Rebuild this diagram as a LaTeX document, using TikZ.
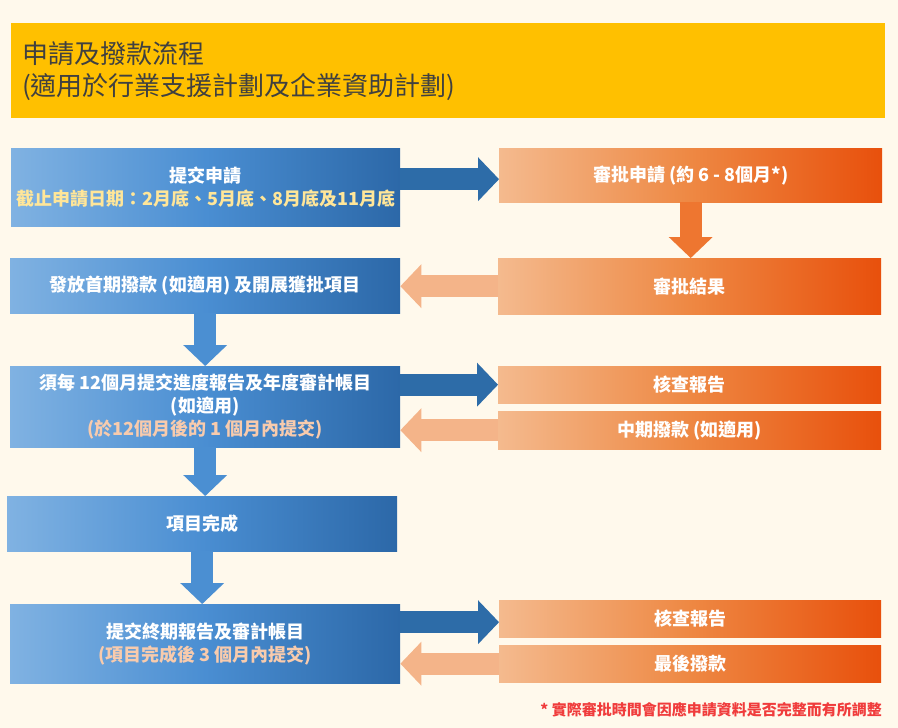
\documentclass[tikz,border=0pt]{standalone}
\usepackage{fontspec}
\newfontfamily\cjk{Noto Sans CJK TC}
\usetikzlibrary{positioning, arrows.meta, calc}
\definecolor{pageBg}{HTML}{FFF9EC}
\definecolor{titleBand}{HTML}{FFC000}
\definecolor{titleText}{HTML}{404040}
\definecolor{bLight}{HTML}{80B2E2}
\definecolor{bMid}{HTML}{4A8ED2}
\definecolor{bDark}{HTML}{2C68A8}
\definecolor{oLight}{HTML}{F4BA8E}
\definecolor{oMid}{HTML}{EE8843}
\definecolor{oDark}{HTML}{E8500C}
\definecolor{bArrow}{HTML}{2D6CA8}
\definecolor{bDown}{HTML}{4B8FD2}
\definecolor{oDown}{HTML}{EE7630}
\definecolor{peach}{HTML}{F4B489}
\definecolor{noteYellow}{HTML}{FFE699}
\definecolor{notePeach}{HTML}{F8CBAD}
\definecolor{noteRed}{HTML}{F03C3C}
\tikzset{
  x=1pt, y=-1pt,
  boxtext/.style={font=\cjk\bfseries\fontsize{18}{23}\selectfont, text=white, align=center, inner sep=0pt, anchor=north west},
  bluebox/.style={boxtext, left color=bLight, right color=bDark, middle color=bMid},
  orangebox/.style={boxtext, left color=oLight, right color=oDark, middle color=oMid},
  titleband/.style={fill=titleBand, anchor=north west, inner xsep=11pt, inner ysep=0pt, align=left, text=titleText, font=\cjk\fontsize{26}{32}\selectfont},
  footnote/.style={anchor=east, inner sep=0pt, text=noteRed, font=\cjk\bfseries\fontsize{15}{18}\selectfont},
  fat/.style={line width=22pt, -{Triangle[length=21pt, width=44pt, line width=0pt]}},
  bright/.style={fat, draw=bArrow},
  bdown/.style={fat, draw=bDown},
  odown/.style={fat, draw=oDown},
  pleft/.style={fat, draw=peach}
}

\begin{document}
\begin{tikzpicture}
    \fill[pageBg] (0,0) rectangle (898,728);
    \useasboundingbox (0,0) rectangle (898,728);

    \node[titleband, minimum width=874pt, minimum height=95pt, text width=852pt] (band) at (11,23) {申請及撥款流程\\(適用於行業支援計劃及企業資助計劃)};

    \node[bluebox, minimum width=389pt, minimum height=78pt] (submit) at (11,148) {提交申請\\\textcolor{noteYellow}{截止申請日期：2月底、5月底、8月底及11月底}};
    \node[orangebox, minimum width=383pt, minimum height=54pt] (review) at (499,148) {審批申請 (約 6 - 8個月*)};
    \node[bluebox, minimum width=390pt, minimum height=55pt] (grant) at (10,258) {發放首期撥款 (如適用) 及開展獲批項目};
    \node[orangebox, minimum width=383pt, minimum height=56pt] (result) at (498,258) {審批結果};
    \node[bluebox, minimum width=390pt, minimum height=81pt] (progress) at (10,366) {須每 12個月提交進度報告及年度審計帳目\\(如適用)\\\textcolor{notePeach}{(於12個月後的 1 個月內提交)}};
    \node[orangebox, minimum width=383pt, minimum height=37pt] (check1) at (498,366) {核查報告};
    \node[orangebox, minimum width=383pt, minimum height=38pt] (interim) at (498,411) {中期撥款 (如適用)};
    \node[bluebox, minimum width=390pt, minimum height=55pt] (done) at (7,496) {項目完成};
    \node[bluebox, minimum width=390pt, minimum height=79pt] (final) at (10,604) {提交終期報告及審計帳目\\\textcolor{notePeach}{(項目完成後 3 個月內提交)}};
    \node[orangebox, minimum width=382pt, minimum height=37pt] (check2) at (499,600) {核查報告};
    \node[orangebox, minimum width=382pt, minimum height=37pt] (payment) at (499,645) {最後撥款};
    \node[footnote] (note) at (882,710) {* 實際審批時間會因應申請資料是否完整而有所調整};

    \coordinate (a1) at ($(submit.east)+(0,-8)$);
    \coordinate (a9) at ($(check2.west)+(0,3.5)$);
    \draw[bright] (a1) -- (a1 -| review.west);
    \draw[odown] (review.south) -- (review.south |- result.north);
    \draw[pleft] (result.west) -- (result.west -| grant.east);
    \draw[bdown] (grant.south) -- (grant.south |- progress.north);
    \draw[bright] (progress.east |- check1.west) -- (check1.west);
    \draw[pleft] (interim.west) -- (interim.west -| progress.east);
    \draw[bdown] (progress.south) -- (progress.south |- done.north);
    \draw[bdown] (done.south) -- (done.south |- final.north);
    \draw[bright] (a9 -| final.east) -- (a9);
    \draw[pleft] (payment.west) -- (payment.west -| final.east);
\end{tikzpicture}
\end{document}
